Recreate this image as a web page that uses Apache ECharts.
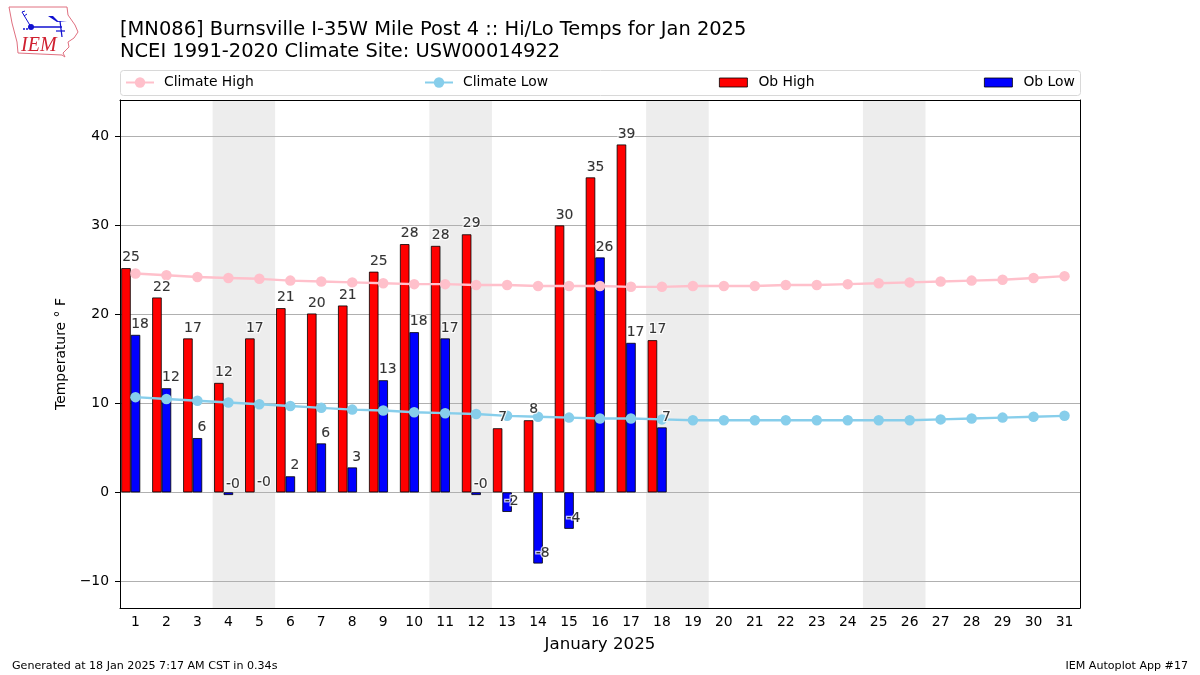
<!DOCTYPE html>
<html>
<head>
<meta charset="utf-8">
<style>html,body{margin:0;padding:0;background:#fff}#c{width:1200px;height:675px}</style>
<script src="https://cdn.jsdelivr.net/npm/echarts@6/dist/echarts.min.js"></script>
</head>
<body>
<div id="c"></div>
<script>
const days = ['1','2','3','4','5','6','7','8','9','10','11','12','13','14','15','16','17','18','19','20','21','22','23','24','25','26','27','28','29','30','31'];
const yTicks = [-10,0,10,20,30,40];
const weekendDays = ['4','5','11','12','18','19','25','26'];
const climateHigh = [24.6,24.4,24.2,24.1,24.0,23.8,23.7,23.6,23.5,23.4,23.4,23.3,23.3,23.2,23.2,23.2,23.1,23.1,23.2,23.2,23.2,23.3,23.3,23.4,23.5,23.6,23.7,23.8,23.9,24.1,24.3];
const climateLow = [10.7,10.5,10.3,10.1,9.9,9.7,9.5,9.3,9.2,9.0,8.9,8.8,8.6,8.5,8.4,8.3,8.3,8.2,8.1,8.1,8.1,8.1,8.1,8.1,8.1,8.1,8.2,8.3,8.4,8.5,8.6];
const obHigh = [25.2,21.9,17.3,12.3,17.3,20.7,20.1,21.0,24.8,27.9,27.7,29.0,7.2,8.1,30.0,35.4,39.1,17.1];
const obLow = [17.7,11.7,6.1,-0.3,-0.01,1.8,5.5,2.8,12.6,18.0,17.3,-0.3,-2.2,-8.0,-4.1,26.4,16.8,7.3];

const FONT = 'DejaVu Sans';
const shade = days.map(d => weekendDays.includes(d) ? 1 : null);
// Each value label is two layers: a white halo underneath, and solid black text on top.
const labelLayer = (name, data, dx, z, look) => ({
  name, type: 'scatter', data, symbolSize: 1, itemStyle: {color: 'transparent'}, z, silent: true,
  label: {show: true, position: 'inside', offset: [dx, -10.5], fontFamily: FONT, fontSize: 13.9,
    formatter: p => Number(p.value).toFixed(0), ...look}
});
const haloLook = {color: '#fff', textBorderColor: '#fff', textBorderWidth: 2.5};
const inkLook = {color: '#000', textBorderColor: '#000', textBorderWidth: 0.12};
const legendBase = {orient: 'horizontal', padding: 0, itemWidth: 28, itemGap: 0,
  textStyle: {fontFamily: FONT, fontSize: 13.9, color: '#000', padding: [0,0,0,5]}, selectedMode: false};
const barLegendText = {fontFamily: FONT, fontSize: 13.9, color: '#000', padding: [0,0,0,6]};
const frameAxis = {show: true, z: 5,
  axisLine: {show: true, onZero: false, lineStyle: {color: '#000', width: 1}},
  axisTick: {show: false}, axisLabel: {show: false}, splitLine: {show: false}};
const titleStyle = {fontFamily: FONT, fontSize: 19.44, fontWeight: 'normal', color: '#000'};
const footStyle = {fontFamily: FONT, fontSize: 11.1, fontWeight: 'normal', color: '#000'};
const BLUE = '#1010d0';

const chart = echarts.init(document.getElementById('c'), null, {renderer: 'canvas'});
chart.setOption({
  animation: false,
  backgroundColor: '#fff',
  textStyle: {fontFamily: FONT},
  grid: {left: 120, top: 100, width: 960, height: 508, show: false, containLabel: false},
  title: [
    {text: '[MN086] Burnsville I-35W Mile Post 4 :: Hi/Lo Temps for Jan 2025', left: 120, top: 20, padding: 0, textStyle: titleStyle},
    {text: 'NCEI 1991-2020 Climate Site: USW00014922', left: 120, top: 42, padding: 0, textStyle: titleStyle},
    {text: 'Generated at 18 Jan 2025 7:17 AM CST in 0.34s', left: 12, top: 661, padding: 0, textStyle: footStyle},
    {text: 'IEM Autoplot App #17', right: 12, top: 661, padding: 0, textStyle: footStyle}
  ],
  legend: [
    {...legendBase, data: ['Climate High'], left: 125, top: 75.5, itemHeight: 13},
    {...legendBase, data: ['Climate Low'], left: 424, top: 75.5, itemHeight: 13},
    {...legendBase, textStyle: barLegendText, data: [{name: 'Ob High', icon: 'rect'}], left: 719, top: 75.5, itemHeight: 9, itemStyle: {borderColor: '#000', borderWidth: 0.8}},
    {...legendBase, textStyle: barLegendText, data: [{name: 'Ob Low', icon: 'rect'}], left: 984, top: 75.5, itemHeight: 9, itemStyle: {borderColor: '#000', borderWidth: 0.8}}
  ],
  xAxis: [
    {type: 'category', data: days, boundaryGap: true, position: 'bottom', z: 5,
      name: 'January 2025', nameLocation: 'middle', nameGap: 28, nameTextStyle: {fontFamily: FONT, fontSize: 16.67, color: '#000'},
      axisLine: {onZero: false, lineStyle: {color: '#000', width: 1}},
      axisTick: {alignWithLabel: true, length: 5, lineStyle: {color: '#000'}},
      axisLabel: {interval: 0, fontFamily: FONT, fontSize: 13.9, color: '#000', margin: 7},
      splitLine: {show: false}},
    {...frameAxis, type: 'category', data: days, position: 'top'}
  ],
  yAxis: [
    {type: 'value', min: -13, max: 44.1, z: 5,
      name: 'Temperature \u00B0 F', nameLocation: 'middle', nameGap: 46, nameRotate: 90,
      nameTextStyle: {fontFamily: FONT, fontSize: 13.9, color: '#000'},
      axisLine: {show: true, onZero: false, lineStyle: {color: '#000', width: 1}},
      axisTick: {show: true, length: 5, lineStyle: {color: '#000'}, customValues: yTicks},
      axisLabel: {fontFamily: FONT, fontSize: 13.9, color: '#000', margin: 11, customValues: yTicks,
        formatter: v => String(v).replace('-', '\u2212')},
      splitLine: {show: false}},
    {...frameAxis, type: 'value', min: 0, max: 1, position: 'right'}
  ],
  series: [
    {name: 'Weekend', type: 'bar', xAxisIndex: 1, yAxisIndex: 1, data: shade, barWidth: 31.6, z: 0, silent: true,
      itemStyle: {color: '#ededed'}},
    {name: 'Gridlines', type: 'line', data: [], z: 1, silent: true, symbol: 'none',
      markLine: {silent: true, symbol: 'none', label: {show: false}, z: 1, animation: false,
        lineStyle: {color: '#b0b0b0', width: 1, type: 'solid'},
        data: yTicks.map(v => ({yAxis: v}))}},
    {name: 'Ob High', type: 'bar', data: obHigh, barWidth: 9.5, barGap: '0%', z: 2,
      itemStyle: {color: '#ff0000', borderColor: '#000', borderWidth: 0.8}},
    {name: 'Ob Low', type: 'bar', barWidth: 9.5, barGap: '0%', z: 2,
      data: obLow.map(v => Math.abs(v) < 0.05 ? {value: v, itemStyle: {color: 'transparent', borderWidth: 0}} : v),
      itemStyle: {color: '#0000ff', borderColor: '#000', borderWidth: 0.8}},
    {name: 'Spacer', type: 'bar', data: [], barWidth: 9.5, barGap: '0%', z: 2},
    {name: 'Climate High', type: 'line', data: climateHigh, symbol: 'circle', symbolSize: 10.5, showSymbol: true, z: 4,
      lineStyle: {color: '#ffc0cb', width: 2.4}, itemStyle: {color: '#ffc0cb'}},
    {name: 'Climate Low', type: 'line', data: climateLow, symbol: 'circle', symbolSize: 10.5, showSymbol: true, z: 4,
      lineStyle: {color: '#87ceeb', width: 2.4}, itemStyle: {color: '#87ceeb'}},
    labelLayer('Ob High Halo', obHigh, -4.5, 6, haloLook),
    labelLayer('Ob Low Halo', obLow, 4.5, 6, haloLook),
    labelLayer('Ob High Labels', obHigh, -4.5, 7, inkLook),
    labelLayer('Ob Low Labels', obLow, 4.5, 7, inkLook)
  ],
  graphic: [
    {type: 'rect', left: 120, top: 70, shape: {width: 960, height: 25, r: 3}, style: {fill: '#fff', stroke: '#d8d8d8', lineWidth: 1}, z: -1},
    {type: 'polyline', shape: {points: [[9,7],[67,7],[68,15],[75,25],[78,32],[74,38],[68,42],[69,47],[63,53],[65,57],[62,55],[18,53],[17,42],[12,23],[9,7]]}, style: {fill: 'none', stroke: '#e07080', lineWidth: 1}},
    {type: 'polyline', shape: {points: [[31,27],[62,27]]}, style: {fill: 'none', stroke: BLUE, lineWidth: 1.5}},
    {type: 'polyline', shape: {points: [[22,12],[31,27]]}, style: {fill: 'none', stroke: BLUE, lineWidth: 1}},
    {type: 'polyline', shape: {points: [[22,12],[25,11]]}, style: {fill: 'none', stroke: BLUE, lineWidth: 1}},
    {type: 'polyline', shape: {points: [[24,16],[27,14]]}, style: {fill: 'none', stroke: BLUE, lineWidth: 1}},
    {type: 'polygon', shape: {points: [[48,16],[53,16],[58,21],[67,21],[57,22]]}, style: {fill: BLUE}},
    {type: 'polyline', shape: {points: [[60,21],[62,37]]}, style: {fill: 'none', stroke: BLUE, lineWidth: 1.2}},
    {type: 'polyline', shape: {points: [[56,31],[65,31]]}, style: {fill: 'none', stroke: BLUE, lineWidth: 1.2}},
    {type: 'circle', shape: {cx: 31, cy: 27, r: 3}, style: {fill: BLUE}},
    {type: 'circle', shape: {cx: 24, cy: 29, r: 1}, style: {fill: BLUE}},
    {type: 'circle', shape: {cx: 27, cy: 29, r: 1}, style: {fill: BLUE}},
    {type: 'text', left: 21, top: 36, style: {text: 'IEM', font: 'italic 20px "Liberation Serif"', fill: '#d02030'}}
  ]
});
</script>
</body>
</html>
